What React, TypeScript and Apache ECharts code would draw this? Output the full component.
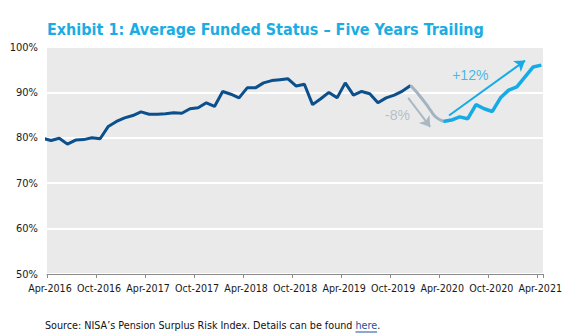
import React, { useEffect, useRef } from 'react';
import * as echarts from 'echarts';

// Tick labels on the x axis (every 6 months, Apr-2016 = 0)
const tickLabels = [
  'Apr-2016', 'Oct-2016', 'Apr-2017', 'Oct-2017', 'Apr-2018', 'Oct-2018',
  'Apr-2019', 'Oct-2019', 'Apr-2020', 'Oct-2020', 'Apr-2021',
];

// Monthly average funded status (%), Mar-2016 .. Apr-2021
const fundedStatus = [
  79.9, 79.4, 79.9, 78.6, 79.5, 79.6, 80.0, 79.8, 82.5, 83.6,
  84.4, 84.9, 85.7, 85.2, 85.2, 85.3, 85.5, 85.4, 86.4, 86.6,
  87.7, 86.9, 90.2, 89.6, 88.8, 91.0, 91.0, 92.1, 92.6, 92.8,
  93.0, 91.4, 91.8, 87.3, 88.6, 90.0, 88.8, 92.1, 89.4, 90.2,
  89.7, 87.7, 88.8, 89.4, 90.3, 91.5, 89.5, 87.2, 84.7, 83.6,
  83.9, 84.6, 84.2, 87.3, 86.4, 85.8, 88.8, 90.5, 91.2, 93.4,
  95.6, 96.0,
];

// Segment boundaries (indices into fundedStatus)
const dropStart = 45;
const dropEnd = 49;

// Annotations (data coordinates: months since Apr-2016, percent)
const dropArrow = [[44.2, 88.8], [46.9, 82.4]];
const riseArrow = [[49.2, 84.9], [58.5, 97.0]];
const annotationTexts = ['-8%', '+12%'];
const annotationPositions = [[42.9, 85.1], [51.8, 93.8]];

const titleText = 'Exhibit 1: Average Funded Status \u2013 Five Years Trailing';
const sourceText = 'Source: NISA\u2019s Pension Surplus Risk Index. Details can be found ';
const linkText = 'here';

const FONT = "'DejaVu Sans Condensed', 'DejaVu Sans', sans-serif";
const DARK = '#0B4F8C';
const GRAY = '#A3B3C1';
const LIGHT = '#16ABE6';

function measure(text: string, font: string): number {
  const c = document.createElement('canvas').getContext('2d');
  if (!c) return text.length * 5;
  c.font = font;
  return c.measureText(text).width;
}

export default function App() {
  const ref = useRef<HTMLDivElement>(null);
  useEffect(() => {
    if (!ref.current) return;
    const chart = echarts.init(ref.current, null, { renderer: 'svg' });
    const pts = fundedStatus.map((v, i) => [i - 0.5, v]);

    const srcX = 45;
    const srcY = 320;
    const srcFont = `10.7px ${FONT}`;
    const w1 = measure(sourceText, srcFont);
    const w2 = measure(linkText, srcFont);

    const lineBase = {
      type: 'line',
      showSymbol: false,
      symbol: 'none',
      clip: true,
      silent: true,
      z: 3,
    };

    chart.setOption({
      animation: false,
      grid: {
        left: 47,
        right: 25,
        top: 47,
        bottom: 62,
        show: true,
        backgroundColor: '#EAEAEA',
        borderWidth: 0,
      },
      xAxis: {
        type: 'value',
        min: 0,
        max: 60.7,
        interval: 6,
        axisLine: { show: true, lineStyle: { color: '#8C8C8C', width: 1 } },
        axisTick: { show: true, length: 4, lineStyle: { color: '#8C8C8C' } },
        splitLine: { show: false },
        axisLabel: {
          fontFamily: FONT,
          fontSize: 10.6,
          color: '#1A1A1A',
          margin: 8,
          padding: [0, 0, 0, 6],
          showMaxLabel: true,
          formatter: (v: number) => {
            const k = Math.round(v);
            if (Math.abs(v - k) > 1e-6 || k % 6 !== 0) return '';
            return tickLabels[k / 6] ?? '';
          },
        },
      },
      yAxis: {
        type: 'value',
        min: 50,
        max: 100,
        interval: 10,
        axisLine: { show: false },
        axisTick: { show: false },
        splitLine: { show: true, lineStyle: { color: '#FFFFFF', width: 2 } },
        axisLabel: {
          fontFamily: FONT,
          fontSize: 11,
          color: '#1A1A1A',
          margin: 9,
          formatter: '{value}%',
        },
      },
      graphic: [
        {
          type: 'text',
          left: 47,
          top: 21,
          style: {
            text: titleText,
            font: `bold 16px ${FONT}`,
            fill: '#1AADE4',
          },
        },
        {
          type: 'text',
          x: srcX,
          y: srcY,
          style: { text: sourceText, font: srcFont, fill: '#111111' },
        },
        {
          type: 'text',
          x: srcX + w1,
          y: srcY,
          style: { text: linkText, font: srcFont, fill: '#1F4E9A' },
        },
        {
          type: 'text',
          x: srcX + w1 + w2,
          y: srcY,
          style: { text: '.', font: srcFont, fill: '#111111' },
        },
        {
          type: 'line',
          shape: { x1: srcX + w1, y1: srcY + 12, x2: srcX + w1 + w2, y2: srcY + 12 },
          style: { stroke: '#1F4E9A', lineWidth: 1 },
        },
      ],
      series: [
        {
          ...lineBase,
          data: pts.slice(0, dropStart + 1),
          lineStyle: { color: DARK, width: 3 },
        },
        {
          ...lineBase,
          data: pts.slice(dropStart, dropEnd + 1),
          smooth: 0.35,
          lineStyle: { color: GRAY, width: 3 },
          markLine: {
            silent: true,
            symbol: ['none', 'arrow'],
            symbolSize: 10,
            label: { show: false },
            lineStyle: { color: '#A9B8C4', width: 2, type: 'solid' },
            data: [[{ coord: dropArrow[0] }, { coord: dropArrow[1] }]],
          },
        },
        {
          ...lineBase,
          data: pts.slice(dropEnd),
          lineStyle: { color: LIGHT, width: 3.5 },
          markLine: {
            silent: true,
            symbol: ['none', 'arrow'],
            symbolSize: 10,
            label: { show: false },
            lineStyle: { color: LIGHT, width: 2, type: 'solid' },
            data: [[{ coord: riseArrow[0] }, { coord: riseArrow[1] }]],
          },
        },
        {
          type: 'scatter',
          silent: true,
          symbolSize: 0,
          z: 4,
          data: annotationTexts.map((t, i) => ({
            name: t,
            value: annotationPositions[i],
            label: {
              show: true,
              position: 'inside',
              formatter: '{b}',
              fontFamily: "'Liberation Sans', Arial, sans-serif",
              fontSize: 14,
              color: i === 0 ? '#A5B4C1' : LIGHT,
            },
          })),
        },
      ],
    });
    return () => chart.dispose();
  }, []);
  return (
    <div
      ref={ref}
      style={{ position: 'fixed', left: 0, top: 0, width: 568, height: 336, background: '#fff' }}
    />
  );
}
